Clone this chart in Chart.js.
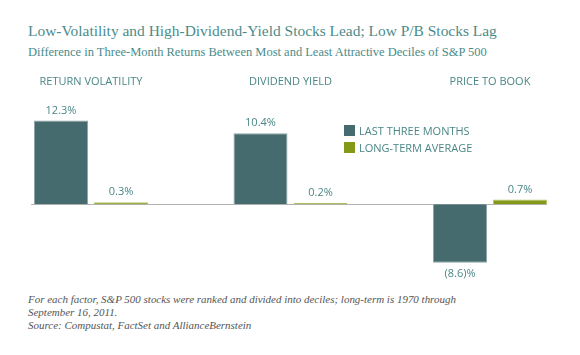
<!DOCTYPE html>
<html>
<head>
<meta charset="utf-8">
<script src="https://cdn.jsdelivr.net/npm/chart.js@4.4.0/dist/chart.umd.min.js"></script>
<style>
  html, body { margin: 0; padding: 0; width: 580px; height: 355px; overflow: hidden; background: #fff; position: relative; }
  .fit { position: absolute; white-space: nowrap; }
  #title { left: 28px; top: 22px; font-family: "Liberation Serif", serif; font-size: 17.5px; color: #4b8c8a; }
  #subtitle { left: 28px; top: 45px; font-family: "Liberation Serif", serif; font-size: 12.5px; color: #4b8c8a; }
  #wrap { position: absolute; left: -10px; top: 60px; width: 600px; height: 230px; }
  #legend { position: absolute; left: 344px; top: 124px; font-family: "Open Sans", sans-serif; font-size: 11px; color: #4b8787; }
  .li { height: 17px; line-height: 13px; white-space: nowrap; }
  .sw { display: inline-block; width: 11px; height: 11px; vertical-align: -1px; margin-right: 4px; }
  #note { position: absolute; left: 28px; top: 293px; font-family: "Liberation Serif", serif; font-style: italic; font-size: 11px; line-height: 13px; color: #555; }
</style>
</head>
<body>
<div id="title" class="fit" data-w="469">Low-Volatility and High-Dividend-Yield Stocks Lead; Low P/B Stocks Lag</div>
<div id="subtitle" class="fit" data-w="459">Difference in Three-Month Returns Between Most and Least Attractive Deciles of S&amp;P 500</div>
<div id="wrap"><canvas id="c"></canvas></div>
<div id="legend"></div>
<div id="note"><span class="nl" data-w="428">For each factor, S&amp;P 500 stocks were ranked and divided into deciles; long-term is 1970 through</span><br>September 16, 2011.<br>Source: Compustat, FactSet and AllianceBernstein</div>
<script>
const categories = ["RETURN VOLATILITY", "DIVIDEND YIELD", "PRICE TO BOOK"];
const seriesNames = ["LAST THREE MONTHS", "LONG-TERM AVERAGE"];
const lastThreeMonths = [12.3, 10.4, -8.6];
const longTermAverage = [0.3, 0.2, 0.7];
const colors = ["#466b6f", "#849916"];

const fmt = v => v < 0 ? "(" + Math.abs(v).toFixed(1) + ")%" : v.toFixed(1) + "%";

// fit headline widths to the reference widths
document.querySelectorAll(".fit").forEach(el => {
  const target = +el.dataset.w;
  const fs = parseFloat(getComputedStyle(el).fontSize);
  const w = el.getBoundingClientRect().width;
  el.style.fontSize = (fs * target / w).toFixed(2) + "px";
});
(function () {
  const nl = document.querySelector(".nl");
  const note = document.getElementById("note");
  const fs = parseFloat(getComputedStyle(note).fontSize);
  const w = nl.getBoundingClientRect().width;
  note.style.fontSize = (fs * (+nl.dataset.w) / w).toFixed(2) + "px";
})();

const legend = document.getElementById("legend");
seriesNames.forEach((n, i) => {
  const d = document.createElement("div");
  d.className = "li";
  d.innerHTML = '<span class="sw" style="background:' + colors[i] + '"></span>' + n;
  legend.appendChild(d);
});

const extras = {
  id: "extras",
  beforeDatasetsDraw(chart) {
    const ctx = chart.ctx;
    const y0 = chart.scales.y.getPixelForValue(0);
    const first = chart.getDatasetMeta(0).data[0];
    const lastMeta = chart.getDatasetMeta(chart.data.datasets.length - 1);
    const last = lastMeta.data[lastMeta.data.length - 1];
    ctx.save();
    ctx.strokeStyle = "#b3b3b3";
    ctx.lineWidth = 1;
    ctx.beginPath();
    ctx.moveTo(first.x - first.width / 2 - 3, Math.round(y0) + 0.5);
    ctx.lineTo(last.x + last.width / 2, Math.round(y0) + 0.5);
    ctx.stroke();
    ctx.restore();
  },
  afterDatasetsDraw(chart) {
    const ctx = chart.ctx;
    ctx.save();
    ctx.font = '11px "Open Sans", sans-serif';
    ctx.fillStyle = "#4b8787";
    ctx.textAlign = "center";
    ctx.textBaseline = "middle";
    chart.data.datasets.forEach((ds, di) => {
      chart.getDatasetMeta(di).data.forEach((bar, i) => {
        const v = ds.data[i];
        const y = v >= 0 ? bar.y - 10 : bar.y + 11;
        ctx.fillText(fmt(v), bar.x, y);
      });
    });
    ctx.restore();
  }
};

new Chart(document.getElementById("c"), {
  type: "bar",
  data: {
    labels: categories,
    datasets: [
      { label: seriesNames[0], data: lastThreeMonths, backgroundColor: colors[0], borderColor: "#8fa5a7", borderWidth: 1, borderSkipped: "start" },
      { label: seriesNames[1], data: longTermAverage, backgroundColor: colors[1], borderColor: "#b9c66a", borderWidth: 1, borderSkipped: "start" }
    ]
  },
  options: {
    responsive: true,
    maintainAspectRatio: false,
    animation: false,
    layout: { padding: { left: 1.25, right: 0.25, top: 8, bottom: 0 } },
    categoryPercentage: 0.6015,
    barPercentage: 0.9,
    plugins: { legend: { display: false }, tooltip: { enabled: false } },
    scales: {
      x: {
        position: "top",
        grid: { display: false, drawTicks: false, tickLength: 0 },
        border: { display: false },
        ticks: { color: "#4b8787", font: { family: "Open Sans", size: 11 }, padding: 7, maxRotation: 0 }
      },
      y: {
        display: false,
        min: -12.6,
        max: 16
      }
    }
  },
  plugins: [extras]
});
</script>
</body>
</html>
